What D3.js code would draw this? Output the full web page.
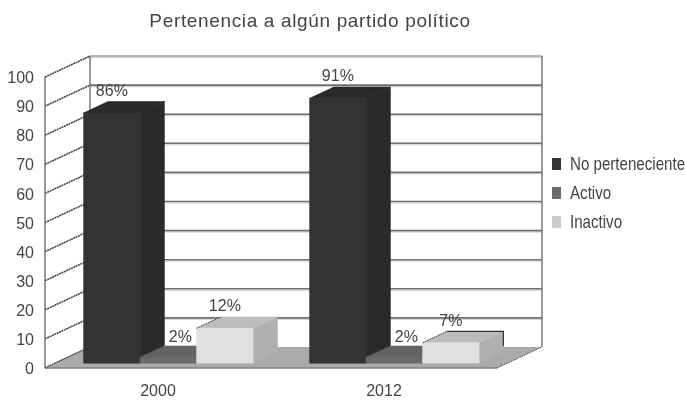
<!DOCTYPE html>
<html>
<head>
  <meta charset="utf-8">
  <title>Pertenencia a algún partido político</title>
  <style>
    body {
      background-color: white;
      margin: 0;
      padding: 0;
    }
    svg {
      display: block;
      filter: blur(0.45px);
    }
    text {
      font-family: "Liberation Sans", Arial, sans-serif;
      fill: #444;
    }
  </style>
</head>
<body>
  <div id="chart-container"></div>

  <script src="https://d3js.org/d3.v7.min.js"></script>
  <script>
    const chartTitle = 'Pertenencia a algún partido político';
    const years = ['2000', '2012'];
    const seriesNames = ['No perteneciente', 'Activo', 'Inactivo'];
    const noPerteneciente = [86, 91];
    const activo = [2, 2];
    const inactivo = [12, 7];
    const yTicks = [0, 10, 20, 30, 40, 50, 60, 70, 80, 90, 100];

    const seriesValues = [noPerteneciente, activo, inactivo];

    // front, side, top shades for each series
    const shades = [
      ['#333333', '#2a2a2a', '#2a2a2a'],
      ['#6a6a6a', '#5c5c5c', '#636363'],
      ['#e0e0e0', '#b0b0b0', '#bcbcbc']
    ];
    const legendColors = ['#333333', '#6a6a6a', '#cccccc'];

    const width = 685;
    const height = 400;

    // 3D box of the plot: front plane + depth offset
    const depthX = 45;
    const depthY = 21;
    const barZ0 = 0.23; // bars stand a bit inside the floor
    const barZ1 = 0.77;

    const x0 = d3.scaleBand().domain(years).range([45, 497]);
    const x1 = d3.scaleBand().domain(seriesNames).range([0, x0.bandwidth()])
      .paddingInner(0).paddingOuter(0.5);
    const y = d3.scaleLinear().domain([0, 100]).range([368, 77]);

    // point on the front plane moved back to depth z (0..1)
    function pt(x, v, z) {
      return [x + z * depthX, y(v) - z * depthY];
    }
    function poly(points) {
      return points.map(p => p.join(',')).join(' ');
    }

    const svg = d3.select('#chart-container').append('svg')
      .attr('width', width)
      .attr('height', height);

    svg.append('text')
      .attr('x', 310)
      .attr('y', 27)
      .attr('text-anchor', 'middle')
      .style('font-size', '19px')
      .style('letter-spacing', '0.65px')
      .text(chartTitle);

    const left = x0.range()[0];
    const right = x0.range()[1];

    // back wall gridlines, with a pale shadow under each
    const grid = svg.append('g');
    grid.selectAll('.grid-shadow')
      .data(yTicks.filter(d => d > 0))
      .enter()
      .append('line')
      .attr('x1', pt(left, 0, 1)[0])
      .attr('x2', pt(right, 0, 1)[0])
      .attr('y1', d => pt(left, d, 1)[1] + 1.5)
      .attr('y2', d => pt(left, d, 1)[1] + 1.5)
      .style('stroke', '#ccc')
      .style('stroke-width', 1);
    grid.selectAll('.grid-line')
      .data(yTicks.filter(d => d > 0))
      .enter()
      .append('line')
      .attr('x1', pt(left, 0, 1)[0])
      .attr('x2', pt(right, 0, 1)[0])
      .attr('y1', d => pt(left, d, 1)[1])
      .attr('y2', d => pt(left, d, 1)[1])
      .style('stroke', '#6e6e6e')
      .style('stroke-width', d => d === 100 ? 1.2 : 1.6);

    // side wall slanted lines
    grid.selectAll('.wall-line')
      .data(yTicks)
      .enter()
      .append('line')
      .attr('x1', pt(left, 0, 0)[0])
      .attr('x2', pt(left, 0, 1)[0])
      .attr('y1', d => pt(left, d, 0)[1])
      .attr('y2', d => pt(left, d, 1)[1])
      .style('stroke', '#444')
      .style('stroke-width', 1.6)
      .style('stroke-dasharray', '2 0.6');

    // wall verticals
    [[left, 0], [left, 1], [right, 1]].forEach(d => {
      svg.append('line')
        .attr('x1', pt(d[0], 0, d[1])[0])
        .attr('x2', pt(d[0], 0, d[1])[0])
        .attr('y1', pt(d[0], 0, d[1])[1])
        .attr('y2', pt(d[0], 100, d[1])[1])
        .style('stroke', '#777')
        .style('stroke-width', 1.5);
    });

    // floor
    svg.append('polygon')
      .attr('points', poly([pt(left, 0, 0), pt(right, 0, 0), pt(right, 0, 1), pt(left, 0, 1)]))
      .style('fill', '#aaaaaa');
    svg.append('line')
      .attr('x1', pt(left, 0, 0)[0]).attr('y1', pt(left, 0, 0)[1])
      .attr('x2', pt(right, 0, 0)[0]).attr('y2', pt(right, 0, 0)[1])
      .style('stroke', '#808080')
      .style('stroke-width', 1.5);
    [left, right].forEach(d => {
      svg.append('line')
        .attr('x1', pt(d, 0, 0)[0]).attr('y1', pt(d, 0, 0)[1])
        .attr('x2', pt(d, 0, 1)[0]).attr('y2', pt(d, 0, 1)[1])
        .style('stroke', '#444')
        .style('stroke-dasharray', '1.5 1');
    });

    // one box face, stroked in its own colour so no seam shows between faces
    function face(parent, points, color) {
      parent.append('polygon')
        .attr('points', poly(points))
        .style('fill', color)
        .style('stroke', color)
        .style('stroke-width', 0.6);
    }

    // bars, painted left to right
    const bars = svg.append('g');
    years.forEach((year, i) => {
      seriesNames.forEach((name, s) => {
        const v = seriesValues[s][i];
        const xa = x0(year) + x1(name);
        const xb = xa + x1.bandwidth();
        const c = shades[s];

        face(bars, [pt(xb, 0, barZ0), pt(xb, 0, barZ1), pt(xb, v, barZ1), pt(xb, v, barZ0)], c[1]);
        face(bars, [pt(xa, v, barZ0), pt(xb, v, barZ0), pt(xb, v, barZ1), pt(xa, v, barZ1)], c[2]);
        face(bars, [pt(xa, 0, barZ0), pt(xb, 0, barZ0), pt(xb, v, barZ0), pt(xa, v, barZ0)], c[0]);

        // light boxes have an edge drawn round the top
        if (s === 2) {
          bars.append('line')
            .attr('x1', pt(xa, v, barZ0)[0]).attr('y1', pt(xa, v, barZ0)[1])
            .attr('x2', pt(xa, v, barZ1)[0]).attr('y2', pt(xa, v, barZ1)[1])
            .style('stroke', '#333')
            .style('stroke-dasharray', '1.5 1');
          if (v < 10) {
            bars.append('polyline')
              .attr('points', poly([pt(xa, v, barZ1), pt(xb, v, barZ1), pt(xb, 2, barZ1)]))
              .style('fill', 'none')
              .style('stroke', '#333')
              .style('stroke-width', 1.2);
          }
        }

        // very short bars get their label pushed right, over the top face
        const labelPos = pt((xa + xb) / 2 + (v < 5 ? 12 : 0), v, barZ0);
        bars.append('text')
          .attr('x', labelPos[0])
          .attr('y', labelPos[1] - (v < 5 ? 15 : 17))
          .attr('text-anchor', 'middle')
          .style('font-size', '16px')
          .text(v + '%');
      });
    });

    // y axis labels
    const yAxis = d3.axisLeft(y).tickValues(yTicks).tickSize(0).tickPadding(0);
    svg.append('g')
      .attr('transform', 'translate(34,0)')
      .call(yAxis)
      .call(g => g.select('.domain').remove())
      .selectAll('text')
      .attr('dy', '0.35em')
      .style('font-family', '"Liberation Sans", Arial, sans-serif')
      .style('font-size', '16px');

    // year labels
    svg.selectAll('.year-label')
      .data(years)
      .enter()
      .append('text')
      .attr('class', 'year-label')
      .attr('x', d => x0(d) + x0.bandwidth() / 2)
      .attr('y', 396)
      .attr('text-anchor', 'middle')
      .style('font-size', '16px')
      .text(d => d);

    // legend
    const legend = svg.selectAll('.legend-item')
      .data(seriesNames)
      .enter()
      .append('g')
      .attr('class', 'legend-item')
      .attr('transform', (d, i) => `translate(552,${158 + i * 29})`);
    legend.append('rect')
      .attr('width', 9)
      .attr('height', 12)
      .style('fill', (d, i) => legendColors[i]);
    // the legend text is squeezed in the reference
    legend.append('text')
      .attr('transform', 'translate(18,12) scale(0.84,1)')
      .style('font-size', '18px')
      .text(d => d);
  </script>
</body>
</html>
